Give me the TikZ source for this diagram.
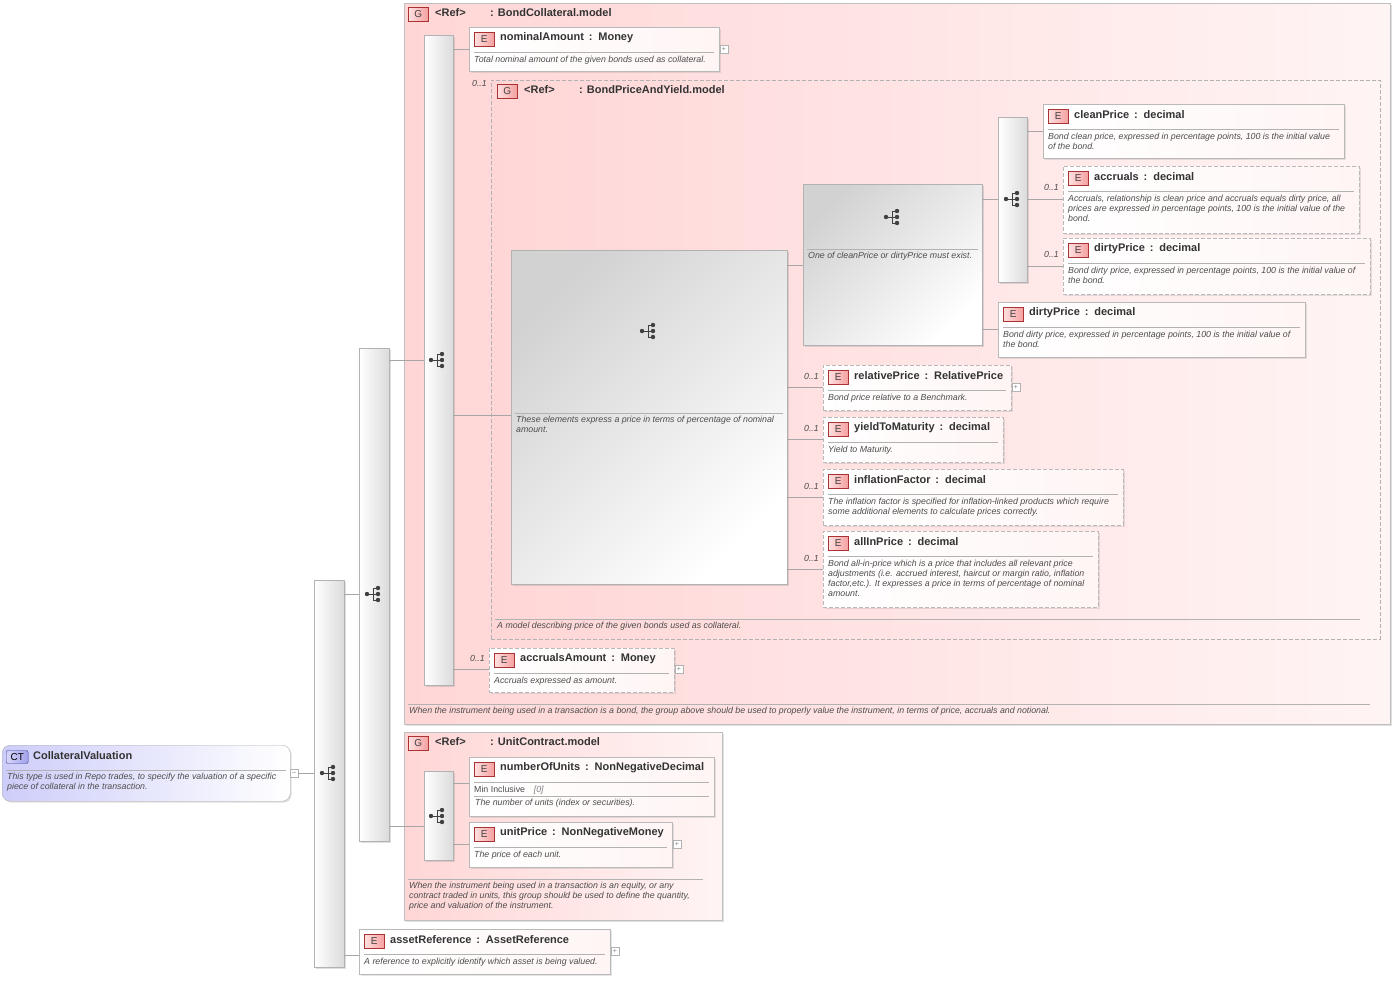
\documentclass[tikz,border=0pt]{standalone}
\usepackage{fontspec}
\setmainfont{Liberation Sans}
\usetikzlibrary{shadows}

\tikzset{
  conn/.style={draw=gray!70, line width=0.6pt},
  sepl/.style={draw=gray!60, line width=0.5pt},
  bar/.style={draw=gray!60, left color=white, right color=gray!28, anchor=north west, inner sep=0pt, drop shadow={opacity=0.25,shadow xshift=1.5pt,shadow yshift=-1.5pt}},
  elbox/.style={draw=gray!55, left color=white, right color=red!4, anchor=north west, inner sep=0pt, drop shadow={opacity=0.2,shadow xshift=1.5pt,shadow yshift=-1.5pt}},
  optel/.style={elbox, dashed, dash pattern=on 4pt off 2pt},
  grp/.style={draw=gray!50, left color={rgb,255:red,255;green,214;blue,214}, right color={rgb,255:red,255;green,244;blue,244}, anchor=north west, inner sep=0pt},
  badge/.style={draw={rgb,255:red,170;green,50;blue,50}, left color={rgb,255:red,255;green,225;blue,225}, right color={rgb,255:red,245;green,160;blue,160}, minimum width=20pt, minimum height=14pt, inner sep=0pt, font=\fontsize{10}{10}\selectfont, text=black!75, anchor=west},
  ttl/.style={font=\fontsize{11}{12}\selectfont\bfseries, text=black!80, anchor=west, inner sep=0pt},
  dsc/.style={font=\fontsize{8.8}{10}\selectfont\itshape, text=black!70, anchor=north west, inner sep=0pt, align=left},
  mult/.style={font=\fontsize{8.8}{9}\selectfont\itshape, text=black!70, anchor=east, inner sep=0pt},
  plus/.style={draw=gray!60, fill=white, minimum size=8pt, inner sep=0pt, font=\fontsize{7}{7}\selectfont, text=gray}
}

% sequence / choice icon
\newcommand\seqicon[2]{%
  \begin{scope}[shift={(#1,#2)}]
    \draw[black!75, line width=0.8pt] (-7,0) -- (-1,0) (-1,-6) -- (-1,6) (-1,-6) -- (4,-6) (-1,0) -- (4,0) (-1,6) -- (4,6);
    \fill[black!75] (-7,0) circle (2.2pt) (4,-6) circle (2.2pt) (4,0) circle (2.2pt) (4,6) circle (2.2pt);
  \end{scope}}
% element box: name, style, x, y, width, height, title, description
\newcommand\elem[8]{%
  \node[#2, minimum width=#5pt, minimum height=#6pt] (#1) at (#3,#4) {};
  \node[badge] at (#3+5,#4+12) {E};
  \node[ttl] at (#3+31,#4+11) {#7};
  \draw[sepl] (#3+5,#4+25) -- (#3+#5-5,#4+25);
  \node[dsc] at (#3+5,#4+29) {#8};}
% group header
\newcommand\grphead[3]{%
  \node[badge] at (#1+4,#2+11) {G};
  \node[ttl] at (#1+31,#2+10) {<Ref>};
  \node[ttl] at (#1+86,#2+10) {: #3};}

\begin{document}
\begin{tikzpicture}[x=1pt, y=-1pt]
  \useasboundingbox (0,0) rectangle (1395,980);

  % groups
  \node[grp, minimum width=986pt, minimum height=721pt, drop shadow={opacity=0.25,shadow xshift=1.5pt,shadow yshift=-1.5pt}] (bondgrp) at (404,3) {};
  \grphead{404}{3}{BondCollateral.model}
  \draw[sepl] (408,704) -- (1370,704);
  \node[dsc] at (409,707) {When the instrument being used in a transaction is a bond, the group above should be used to properly value the instrument, in terms of price, accruals and notional.};

  \node[grp, minimum width=889pt, minimum height=559pt, dashed, dash pattern=on 4pt off 2pt, draw=gray!60] (pricegrp) at (491,80) {};
  \grphead{493}{80}{BondPriceAndYield.model}
  \node[mult] at (487,83) {0..1};
  \draw[sepl] (495,619) -- (1360,619);
  \node[dsc] at (497,622) {A model describing price of the given bonds used as collateral.};

  \node[grp, minimum width=318pt, minimum height=188pt, drop shadow={opacity=0.25,shadow xshift=1.5pt,shadow yshift=-1.5pt}] (unitgrp) at (404,732) {};
  \grphead{404}{732}{UnitContract.model}
  \draw[sepl] (408,879) -- (703,879);
  \node[dsc] at (409,882) {When the instrument being used in a transaction is an equity, or any\\contract traded in units, this group should be used to define the quantity,\\price and valuation of the instrument.};

  % complex type
  \node[draw=gray!60, rounded corners=8pt, left color={rgb,255:red,205;green,205;blue,250}, right color=white, minimum width=288pt, minimum height=56pt, anchor=north west, inner sep=0pt, drop shadow={opacity=0.25,shadow xshift=1.5pt,shadow yshift=-1.5pt}] (ct) at (2,745) {};
  \node[draw={rgb,255:red,60;green,60;blue,150}, left color={rgb,255:red,215;green,215;blue,250}, right color={rgb,255:red,160;green,160;blue,235}, rounded corners=2pt, minimum width=22pt, minimum height=13pt, inner sep=0pt, font=\fontsize{10}{10}\selectfont, anchor=west] at (6,757) {CT};
  \node[ttl] at (33,756) {CollateralValuation};
  \draw[sepl] (6,770) -- (286,770);
  \node[dsc] at (7,773) {This type is used in Repo trades, to specify the valuation of a specific\\piece of collateral in the transaction.};
  \node[plus] (ctp) at (294,773) {--};

  % sequences
  \node[bar, minimum width=30pt, minimum height=387pt] (s1) at (314,580) {};
  \seqicon{329}{773}
  \node[bar, minimum width=30pt, minimum height=493pt] (s2) at (359,348) {};
  \seqicon{374}{594}
  \node[bar, minimum width=29pt, minimum height=650pt] (s3) at (424,35) {};
  \seqicon{438}{360}
  \node[bar, minimum width=29pt, minimum height=89pt] (s6) at (424,771) {};
  \seqicon{438}{816}
  \node[draw=gray!60, left color=gray!35, right color=white, shading angle=45, minimum width=276pt, minimum height=334pt, anchor=north west, inner sep=0pt, drop shadow={opacity=0.25,shadow xshift=1.5pt,shadow yshift=-1.5pt}] (s4) at (511,250) {};
  \seqicon{649}{331}
  \draw[sepl] (515,413) -- (783,413);
  \node[dsc] at (516,416) {These elements express a price in terms of percentage of nominal\\amount.};
  \node[draw=gray!60, left color=gray!35, right color=white, shading angle=45, minimum width=179pt, minimum height=161pt, anchor=north west, inner sep=0pt, drop shadow={opacity=0.25,shadow xshift=1.5pt,shadow yshift=-1.5pt}] (ch) at (803,184) {};
  \seqicon{893}{217}
  \draw[sepl] (807,249) -- (978,249);
  \node[dsc] at (808,252) {One of cleanPrice or dirtyPrice must exist.};
  \node[bar, minimum width=29pt, minimum height=165pt] (s5) at (998,117) {};
  \seqicon{1013}{199}

  % elements
  \elem{nom}{elbox}{469}{27}{250}{44}{nominalAmount\, :\, Money}{Total nominal amount of the given bonds used as collateral.}
  \elem{clean}{elbox}{1043}{104}{301}{54}{cleanPrice\, :\, decimal}{Bond clean price, expressed in percentage points, 100 is the initial value\\of the bond.}
  \elem{accr}{optel}{1063}{166}{296}{67}{accruals\, :\, decimal}{Accruals, relationship is clean price and accruals equals dirty price, all\\prices are expressed in percentage points, 100 is the initial value of the\\bond.}
  \elem{dirtyo}{optel}{1063}{238}{307}{56}{dirtyPrice\, :\, decimal}{Bond dirty price, expressed in percentage points, 100 is the initial value of\\the bond.}
  \elem{dirty}{elbox}{998}{302}{307}{55}{dirtyPrice\, :\, decimal}{Bond dirty price, expressed in percentage points, 100 is the initial value of\\the bond.}
  \elem{rel}{optel}{823}{365}{188}{45}{relativePrice\, :\, RelativePrice}{Bond price relative to a Benchmark.}
  \elem{ytm}{optel}{823}{417}{180}{45}{yieldToMaturity\, :\, decimal}{Yield to Maturity.}
  \elem{infl}{optel}{823}{469}{300}{56}{inflationFactor\, :\, decimal}{The inflation factor is specified for inflation-linked products which require\\some additional elements to calculate prices correctly.}
  \elem{allin}{optel}{823}{531}{275}{76}{allInPrice\, :\, decimal}{Bond all-in-price which is a price that includes all relevant price\\adjustments (i.e. accrued interest, haircut or margin ratio, inflation\\factor,etc.). It expresses a price in terms of percentage of nominal\\amount.}
  \elem{accam}{optel}{489}{648}{185}{44}{accrualsAmount\, :\, Money}{Accruals expressed as amount.}
  \elem{units}{elbox}{469}{757}{245}{59}{numberOfUnits\, :\, NonNegativeDecimal}{\textup{\fontsize{8.8}{10}\selectfont Min Inclusive}\quad {\color{gray}[0]}}
  \draw[sepl] (474,796) -- (709,796);
  \node[dsc] at (475,799) {The number of units (index or securities).};
  \elem{uprice}{elbox}{469}{822}{203}{45}{unitPrice\, :\, NonNegativeMoney}{The price of each unit.}
  \elem{asset}{elbox}{359}{929}{251}{45}{assetReference\, :\, AssetReference}{A reference to explicitly identify which asset is being valued.}

  % multiplicities
  \node[mult] at (1059,187) {0..1};
  \node[mult] at (1059,254) {0..1};
  \node[mult] at (819,376) {0..1};
  \node[mult] at (819,428) {0..1};
  \node[mult] at (819,486) {0..1};
  \node[mult] at (819,558) {0..1};
  \node[mult] at (485,658) {0..1};

  % expanders
  \node[plus] at (724,49) {+};
  \node[plus] at (1016,387) {+};
  \node[plus] at (679,669) {+};
  \node[plus] at (677,844) {+};
  \node[plus] at (615,951) {+};

  % connectors
  \draw[conn] (ctp.east) -- (s1.west |- ctp.east);
  \draw[conn] (s1.east |- 0,594) -- (s2.west |- 0,594);
  \draw[conn] (s1.east |- 0,955) -- (asset.west |- 0,955);
  \draw[conn] (s2.east |- 0,360) -- (s3.west |- 0,360);
  \draw[conn] (s2.east |- 0,826) -- (s6.west |- 0,826);
  \draw[conn] (s3.east |- 0,49) -- (nom.west |- 0,49);
  \draw[conn] (s3.east |- 0,415) -- (s4.west |- 0,415);
  \draw[conn] (s3.east |- 0,669) -- (accam.west |- 0,669);
  \draw[conn] (s6.east |- 0,783) -- (units.west |- 0,783);
  \draw[conn] (s6.east |- 0,844) -- (uprice.west |- 0,844);
  \draw[conn] (s4.east |- 0,265) -- (ch.west |- 0,265);
  \draw[conn] (s4.east |- 0,387) -- (rel.west |- 0,387);
  \draw[conn] (s4.east |- 0,439) -- (ytm.west |- 0,439);
  \draw[conn] (s4.east |- 0,497) -- (infl.west |- 0,497);
  \draw[conn] (s4.east |- 0,569) -- (allin.west |- 0,569);
  \draw[conn] (ch.east |- 0,199) -- (s5.west |- 0,199);
  \draw[conn] (ch.east |- 0,329) -- (dirty.west |- 0,329);
  \draw[conn] (s5.east |- 0,131) -- (clean.west |- 0,131);
  \draw[conn] (s5.east |- 0,199) -- (accr.west |- 0,199);
  \draw[conn] (s5.east |- 0,266) -- (dirtyo.west |- 0,266);
\end{tikzpicture}
\end{document}
